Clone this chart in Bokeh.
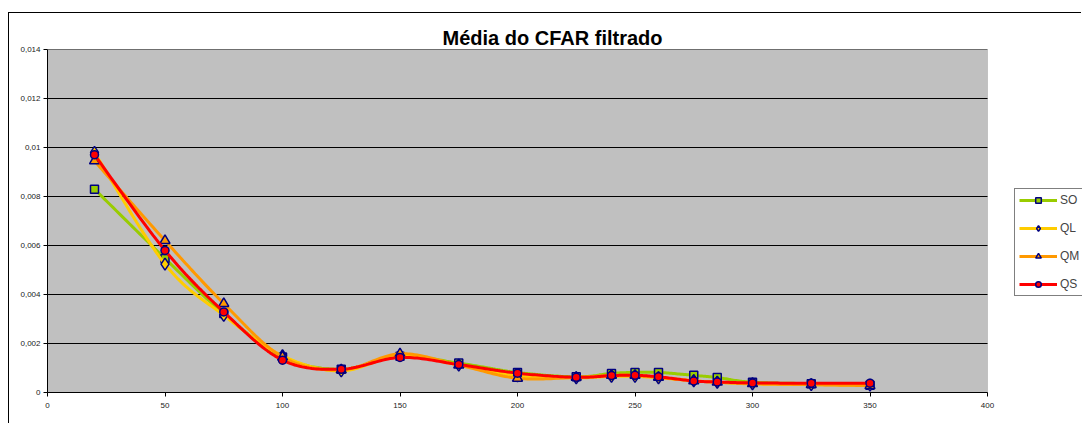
from bokeh.plotting import figure
from bokeh.models import Legend, LegendItem, FixedTicker, BoxAnnotation
from bokeh.embed import file_html
from bokeh.resources import INLINE
import numpy as np

# ---------------- data ----------------
x_vals = [20, 50, 75, 100, 125, 150, 175, 200, 225, 240, 250, 260, 275, 285, 300, 325, 350]
so = [0.0083, 0.00547, 0.00322, 0.00145, 0.00095, 0.00148, 0.0012, 0.00082, 0.00064, 0.00078,
      0.00082, 0.00082, 0.0007, 0.00061, 0.00042, 0.00036, 0.0003]
ql = [0.0098, 0.00524, 0.00315, 0.0015, 0.00088, 0.00152, 0.00112, 0.00068, 0.0006, 0.00066,
      0.00066, 0.0006, 0.00048, 0.00042, 0.00035, 0.00032, 0.0003]
qm = [0.00945, 0.0062, 0.00363, 0.00145, 0.00092, 0.00158, 0.00112, 0.00058, 0.00062, 0.0007,
      0.0007, 0.00062, 0.00048, 0.00042, 0.00036, 0.00032, 0.00028]
qs = [0.0097, 0.0058, 0.00329, 0.00132, 0.00095, 0.00143, 0.00114, 0.00079, 0.00062, 0.00069,
      0.0007, 0.00064, 0.00047, 0.00043, 0.00039, 0.00038, 0.00038]

series_names = ["SO", "QL", "QM", "QS"]
series_vals = [so, ql, qm, qs]
line_colors = ["#99CC00", "#FFCC00", "#FF9900", "#FF0000"]
marker_fill = ["#99CC00", "#FFCC00", "#FF9900", "#FF0000"]
markers = ["square", "diamond", "triangle", "circle"]
marker_sizes = [8, 12, 10, 8]

x_ticks = [0, 50, 100, 150, 200, 250, 300, 350, 400]
y_ticks = [0, 0.002, 0.004, 0.006, 0.008, 0.01, 0.012, 0.014]
y_tick_labels = ["0", "0,002", "0,004", "0,006", "0,008", "0,01", "0,012", "0,014"]
title_text = "Média do CFAR filtrado"


def smooth(xs, ys, n=24):
    """Excel-like smoothed line (Catmull-Rom as cubic Bezier)."""
    P = np.column_stack([xs, ys]).astype(float)
    m = len(P)
    ox, oy = [], []
    for i in range(m - 1):
        p0 = P[i - 1] if i > 0 else P[i]
        p1 = P[i]
        p2 = P[i + 1]
        p3 = P[i + 2] if i + 2 < m else P[i + 1]
        c1 = p1 + (p2 - p0) / 6.0
        c2 = p2 - (p3 - p1) / 6.0
        t = np.linspace(0, 1, n, endpoint=(i == m - 2))
        b = ((1 - t) ** 3)[:, None] * p1 + (3 * (1 - t) ** 2 * t)[:, None] * c1 \
            + (3 * (1 - t) * t ** 2)[:, None] * c2 + (t ** 3)[:, None] * p2
        ox.extend(b[:, 0]); oy.extend(b[:, 1])
    return ox, oy


# frame spans to the right edge so the legend (outside the plot area) is not clipped;
# the plot area itself is the x_ticks[0]..x_ticks[-1] box
x_end = x_ticks[-1] * (1082 - 47) / 940.0
p = figure(width=1073, height=411, output_backend="svg", toolbar_location=None,
           x_range=(0, x_end), y_range=(y_ticks[0], y_ticks[-1]),
           min_border_left=38, min_border_right=0, min_border_top=36, min_border_bottom=32,
           background_fill_color="white", border_fill_color="white",
           outline_line_color=None)
p.margin = (12, 0, 0, 8)
p.styles = {"border-top": "1px solid black", "border-left": "1px solid black"}

p.title.text = title_text
p.title.align = "left"
p.title.offset = 395
p.title.standoff = 2
p.title.text_font = "Liberation Sans"
p.title.text_font_size = "20px"
p.title.text_font_style = "bold"
p.title.text_color = "black"

# gray plot area
p.add_layout(BoxAnnotation(left=x_ticks[0], right=x_ticks[-1], bottom=y_ticks[0], top=y_ticks[-1],
                           fill_color="#C0C0C0", fill_alpha=1, line_color="#808080",
                           line_width=1, level="image"))

p.xgrid.grid_line_color = None
p.ygrid.grid_line_color = None
# horizontal gridlines limited to the plot area
gr = p.segment(x0=[x_ticks[0]] * len(y_ticks), x1=[x_ticks[-1]] * len(y_ticks),
               y0=y_ticks, y1=y_ticks, line_color="black", line_width=1)
gr.level = "underlay"

p.xaxis.ticker = FixedTicker(ticks=x_ticks)
p.xaxis.bounds = (x_ticks[0], x_ticks[-1])
p.yaxis.ticker = FixedTicker(ticks=y_ticks)
p.yaxis.major_label_overrides = {t: l for t, l in zip(y_ticks, y_tick_labels)}
for ax in (p.xaxis[0], p.yaxis[0]):
    ax.axis_line_color = "black"
    ax.axis_line_width = 1
    ax.major_tick_line_color = "black"
    ax.major_tick_in = 0
    ax.major_tick_out = 4
    ax.minor_tick_line_color = None
    ax.major_label_text_font = "Liberation Sans"
    ax.major_label_text_font_size = "8px"
    ax.major_label_text_color = "#222222"
p.xaxis.major_label_standoff = 6
p.yaxis.major_label_standoff = 3

items = []
for name, vals, lc, mf, mk, ms in zip(series_names, series_vals, line_colors, marker_fill, markers, marker_sizes):
    sx, sy = smooth(x_vals, vals)
    lr = p.line(sx, sy, line_color=lc, line_width=3)
    sr = p.scatter(x_vals, vals, marker=mk, size=ms, fill_color=mf,
                   line_color="#000080", line_width=1.5)
    items.append(LegendItem(label=name, renderers=[lr, sr]))

legend = Legend(items=items, location=(967, 96), orientation="vertical",
                border_line_color="black", border_line_width=1,
                background_fill_color="white", background_fill_alpha=1,
                label_text_font="Liberation Sans", label_text_font_size="12px",
                glyph_width=38, glyph_height=14, label_height=14, label_width=0,
                spacing=14, padding=4, margin=0, label_standoff=3)
p.add_layout(legend, "center")

open("out.html", "w").write(file_html(p, INLINE))
